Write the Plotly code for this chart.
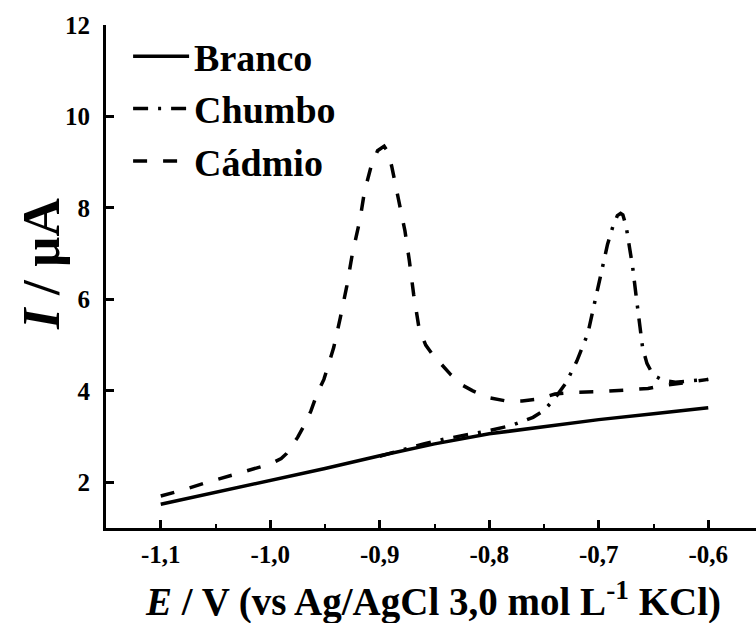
import plotly.graph_objects as go

# ---- data ----
branco_E = [-1.10, -1.05, -1.00, -0.95, -0.90, -0.85, -0.80, -0.75, -0.70, -0.65, -0.60]
branco_I = [1.52, 1.78, 2.03, 2.30, 2.58, 2.84, 3.06, 3.22, 3.37, 3.50, 3.63]

chumbo_E = [-0.90, -0.88, -0.86, -0.84, -0.82, -0.80, -0.78, -0.77, -0.76, -0.75, -0.74,
            -0.73, -0.72, -0.71, -0.702, -0.697, -0.692, -0.687, -0.683, -0.680, -0.678,
            -0.675, -0.672, -0.669, -0.666, -0.663, -0.660, -0.656, -0.652, -0.647, -0.64,
            -0.63, -0.62, -0.61, -0.60]
chumbo_I = [2.57, 2.71, 2.84, 2.95, 3.04, 3.13, 3.24, 3.32, 3.42, 3.57, 3.84,
            4.17, 4.65, 5.25, 6.10, 6.65, 7.20, 7.60, 7.83, 7.88, 7.85,
            7.60, 7.20, 6.70, 6.10, 5.45, 4.95, 4.60, 4.42, 4.30, 4.22,
            4.19, 4.21, 4.22, 4.25]

cadmio_E = [-1.10, -1.08, -1.06, -1.04, -1.02, -1.00, -0.99, -0.985, -0.975, -0.97, -0.963,
            -0.957, -0.951, -0.946, -0.942, -0.936, -0.930, -0.925, -0.918, -0.914, -0.908,
            -0.902, -0.896, -0.892, -0.889, -0.883, -0.877, -0.873, -0.869, -0.864, -0.858,
            -0.852, -0.843, -0.835, -0.825, -0.815, -0.80, -0.785, -0.77, -0.755, -0.74,
            -0.72, -0.70, -0.675, -0.655, -0.645, -0.63, -0.615, -0.60]
cadmio_I = [1.70, 1.83, 1.98, 2.12, 2.25, 2.40, 2.52, 2.63, 2.98, 3.20, 3.55,
            3.95, 4.25, 4.65, 4.95, 5.60, 6.30, 7.00, 7.75, 8.35, 8.90,
            9.25, 9.35, 9.20, 8.90, 8.20, 7.50, 6.85, 6.10, 5.35, 5.00,
            4.80, 4.55, 4.35, 4.13, 4.00, 3.85, 3.78, 3.78, 3.82, 3.93,
            3.97, 3.98, 4.01, 4.05, 4.10, 4.15, 4.20, 4.25]

x_ticks = [-1.1, -1.0, -0.9, -0.8, -0.7, -0.6]
x_ticklabels = ["-1,1", "-1,0", "-0,9", "-0,8", "-0,7", "-0,6"]
y_ticks = [2, 4, 6, 8, 10, 12]

FONT = "Liberation Serif"
LW = 3.5

fig = go.Figure()
fig.add_trace(go.Scatter(x=branco_E, y=branco_I, mode="lines", name="Branco",
                         line=dict(color="black", width=LW)))
fig.add_trace(go.Scatter(x=chumbo_E, y=chumbo_I, mode="lines", name="Chumbo",
                         line=dict(color="black", width=LW, dash="15px,10px,3px,10px")))
fig.add_trace(go.Scatter(x=cadmio_E, y=cadmio_I, mode="lines", name="Cádmio",
                         line=dict(color="black", width=LW, dash="14px,16px")))

fig.update_layout(
    width=756, height=623,
    margin=dict(l=106, r=0, t=25, b=95),
    paper_bgcolor="white", plot_bgcolor="white",
    font=dict(family=FONT, color="black", weight="bold"),
    showlegend=True,
    legend=dict(x=0.034, y=1.0, xanchor="left", yanchor="top",
                bgcolor="rgba(0,0,0,0)", itemwidth=56,
                font=dict(family=FONT, size=38, weight="bold", color="black"),
                tracegroupgap=0),
    xaxis=dict(
        range=[-1.15, -1.15 + 650 / 1095],
        tickvals=x_ticks, ticktext=x_ticklabels,
        ticks="inside", ticklen=8, tickwidth=2.5, tickcolor="black",
        minor=dict(dtick=0.05, tick0=0, ticks="inside", ticklen=4, tickwidth=2, tickcolor="black"),
        showline=True, linewidth=3, linecolor="black",
        showgrid=False, zeroline=False,
        tickfont=dict(family=FONT, size=25, weight="bold"),
        ticklabelstandoff=2,
    ),
    xaxis2=dict(
        overlaying="x", side="top", matches="x",
        range=[-1.15, -1.15 + 650 / 1095],
        dtick=0.05, tick0=0,
        ticks="inside", ticklen=4, tickwidth=2, tickcolor="black",
        showticklabels=False, showline=True, linewidth=3, linecolor="black",
        showgrid=False, zeroline=False,
    ),
    yaxis=dict(
        range=[1, 12],
        tickvals=y_ticks,
        ticks="inside", ticklen=8, tickwidth=2.5, tickcolor="black",
        showline=True, linewidth=3, linecolor="black",
        showgrid=False, zeroline=False,
        tickfont=dict(family=FONT, size=25, weight="bold"),
        ticklabelstandoff=8,
    ),
    annotations=[
        dict(text="<i>I</i> / µA", textangle=-90,
             xref="paper", yref="paper", x=-0.1, y=0.525,
             xanchor="center", yanchor="middle", showarrow=False,
             font=dict(family=FONT, size=53, weight="bold", color="black")),
        dict(text="<i>E</i> / V (vs Ag/AgCl 3,0 mol L<sup>-1</sup> KCl)",
             xref="paper", yref="paper", x=0.503, y=-0.142,
             xanchor="center", yanchor="middle", showarrow=False,
             font=dict(family=FONT, size=39, weight="bold", color="black")),
    ],
)

fig.write_html("out.html", config={"displayModeBar": False},
               post_script="document.body.style.margin='0';document.body.style.overflow='hidden';")
